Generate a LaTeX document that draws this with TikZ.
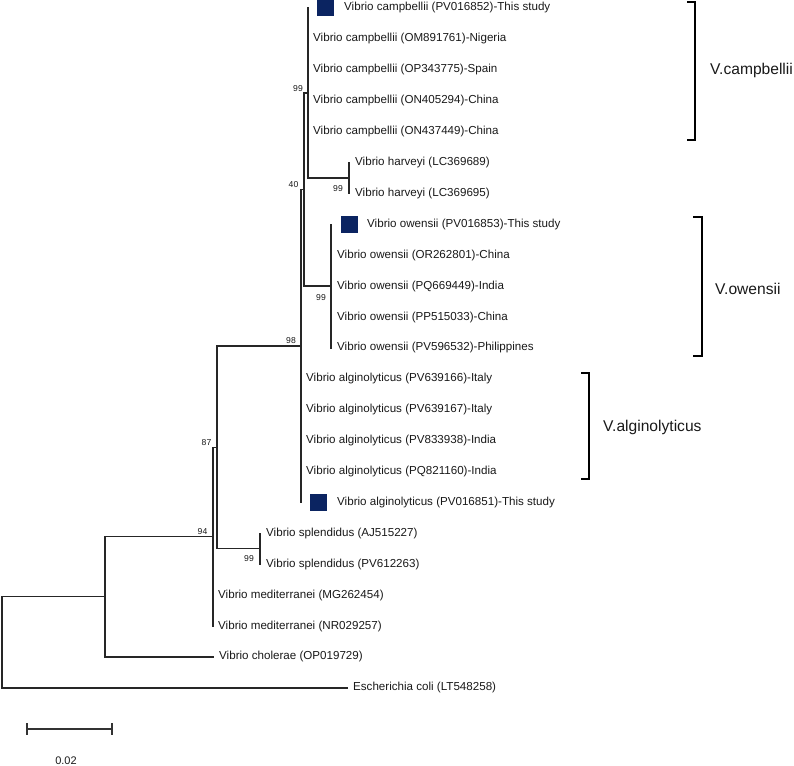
\documentclass[tikz,border=0pt]{standalone}
\usepackage{fontspec}
\setmainfont{Liberation Sans}
\definecolor{navy}{HTML}{0B2461}
\begin{document}
\begin{tikzpicture}[x=1bp,y=-1bp,
  branch/.style={line width=1.4bp, black!85, line cap=rect},
  leaf/.style={anchor=west, inner sep=0pt, text=black!90, font=\fontsize{11.6bp}{13bp}\selectfont},
  boot/.style={anchor=east, inner sep=0pt, text=black!90, font=\fontsize{8.6bp}{10bp}\selectfont},
  studybox/.style={fill=navy, minimum width=17bp, minimum height=17bp, inner sep=0pt, anchor=west},
  cladebr/.style={line width=1.5bp, black},
  cladelab/.style={anchor=west, inner sep=0pt, text=black!90, font=\fontsize{15.6bp}{18bp}\selectfont},
  scalebar/.style={line width=1.6bp, black!80}]
\useasboundingbox (0,0) rectangle (794,766);

% leaf tips
\foreach \i/\x in {0/308,1/308,2/308,3/308,4/308,5/349,6/349,7/331,8/331,9/331,10/331,11/331,
  12/301,13/301,14/301,15/301,16/301,17/260,18/260,19/213,20/213,21/213,22/347}
  {\coordinate (t\i) at (\x,{8+30.9*\i});}

% internal nodes
\coordinate (H) at (349,177.95);
\coordinate (C) at (308,92.98);
\coordinate (O) at (331,286.1);
\coordinate (N40) at (304,189.54);
\coordinate (N98) at (301,345.97);
\coordinate (S) at (260,548.75);
\coordinate (N87) at (217,447.36);
\coordinate (N94) at (213,536.68);
\coordinate (A) at (105,596.79);
\coordinate (R) at (2,642.3);

% branches
\draw[branch] (t0) -- (C |- H) -- (H);
\draw[branch] (t5) -- (t6);
\draw[branch] (t7) -- (t11);
\draw[branch] (C) -- (N40 |- C) -- (N40 |- O) -- (O);
\draw[branch] (N40) -- (N98 |- N40) -- (t16);
\draw[branch] (t17) -- (t18);
\draw[branch] (N98) -- (N87 |- N98) -- (N87 |- S) -- (S);
\draw[branch] (N87) -- (N94 |- N87) -- (t20);
\draw[branch] (N94) -- (A |- N94) -- (A |- t21) -- (t21);
\draw[branch] (A) -- (R |- A) -- (R |- t22) -- (t22);

% leaf labels
\node[studybox] (q0) at ([xshift=9bp]t0) {};
\node[leaf] (l0) at ([xshift=36bp]t0) {Vibrio campbellii (PV016852)-This study};
\node[leaf] (l1) at ([xshift=5bp]t1) {Vibrio campbellii (OM891761)-Nigeria};
\node[leaf] (l2) at ([xshift=5bp]t2) {Vibrio campbellii (OP343775)-Spain};
\node[leaf] (l3) at ([xshift=5bp]t3) {Vibrio campbellii (ON405294)-China};
\node[leaf] (l4) at ([xshift=5bp]t4) {Vibrio campbellii (ON437449)-China};
\node[leaf] (l5) at ([xshift=6bp]t5) {Vibrio harveyi (LC369689)};
\node[leaf] (l6) at ([xshift=6bp]t6) {Vibrio harveyi (LC369695)};
\node[studybox] (q7) at ([xshift=10bp]t7) {};
\node[leaf] (l7) at ([xshift=36bp]t7) {Vibrio owensii (PV016853)-This study};
\node[leaf] (l8) at ([xshift=6bp]t8) {Vibrio owensii (OR262801)-China};
\node[leaf] (l9) at ([xshift=6bp]t9) {Vibrio owensii (PQ669449)-India};
\node[leaf] (l10) at ([xshift=6bp]t10) {Vibrio owensii (PP515033)-China};
\node[leaf] (l11) at ([xshift=6bp]t11) {Vibrio owensii (PV596532)-Philippines};
\node[leaf] (l12) at ([xshift=5bp]t12) {Vibrio alginolyticus (PV639166)-Italy};
\node[leaf] (l13) at ([xshift=5bp]t13) {Vibrio alginolyticus (PV639167)-Italy};
\node[leaf] (l14) at ([xshift=5bp]t14) {Vibrio alginolyticus (PV833938)-India};
\node[leaf] (l15) at ([xshift=5bp]t15) {Vibrio alginolyticus (PQ821160)-India};
\node[studybox] (q16) at ([xshift=9bp]t16) {};
\node[leaf] (l16) at ([xshift=36bp]t16) {Vibrio alginolyticus (PV016851)-This study};
\node[leaf] (l17) at ([xshift=6bp]t17) {Vibrio splendidus (AJ515227)};
\node[leaf] (l18) at ([xshift=6bp]t18) {Vibrio splendidus (PV612263)};
\node[leaf] (l19) at ([xshift=5bp]t19) {Vibrio mediterranei (MG262454)};
\node[leaf] (l20) at ([xshift=5bp]t20) {Vibrio mediterranei (NR029257)};
\node[leaf] (l21) at ([xshift=6bp]t21) {Vibrio cholerae (OP019729)};
\node[leaf] (l22) at ([xshift=6bp]t22) {Escherichia coli (LT548258)};

% bootstrap values
\node[boot] (bC) at ([xshift=-5bp,yshift=4.7bp]C) {99};
\node[boot] (b40) at ([xshift=-5.5bp,yshift=4.6bp]N40) {40};
\node[boot] (bH) at ([xshift=-6bp,yshift=-11bp]H) {99};
\node[boot] (bO) at ([xshift=-5bp,yshift=-11bp]O) {99};
\node[boot] (b98) at ([xshift=-5bp,yshift=5bp]N98) {98};
\node[boot] (b87) at ([xshift=-5.5bp,yshift=4.5bp]N87) {87};
\node[boot] (b94) at ([xshift=-5.5bp,yshift=4.7bp]N94) {94};
\node[boot] (bS) at ([xshift=-6bp,yshift=-9.5bp]S) {99};

% clade brackets
\draw[cladebr] (687,2) -- (695,2) -- (695,140) -- (687,140);
\node[cladelab] (cc) at (710,70) {V.campbellii};
\draw[cladebr] (693,217) -- (702,217) -- (702,356) -- (693,356);
\node[cladelab] (co) at (715,289) {V.owensii};
\draw[cladebr] (581,373) -- (589,373) -- (589,479) -- (581,479);
\node[cladelab] (ca) at (603,427) {V.alginolyticus};

% scale bar
\coordinate (sb1) at (27,729);
\coordinate (sb2) at (112,729);
\draw[scalebar] (sb1) -- (sb2);
\draw[scalebar] ([yshift=6bp]sb1) -- ([yshift=-6bp]sb1);
\draw[scalebar] ([yshift=6bp]sb2) -- ([yshift=-6bp]sb2);
\node[inner sep=0pt, text=black!90, font=\fontsize{11bp}{13bp}\selectfont] (sbl) at (66,761) {0.02};
\end{tikzpicture}
\end{document}
